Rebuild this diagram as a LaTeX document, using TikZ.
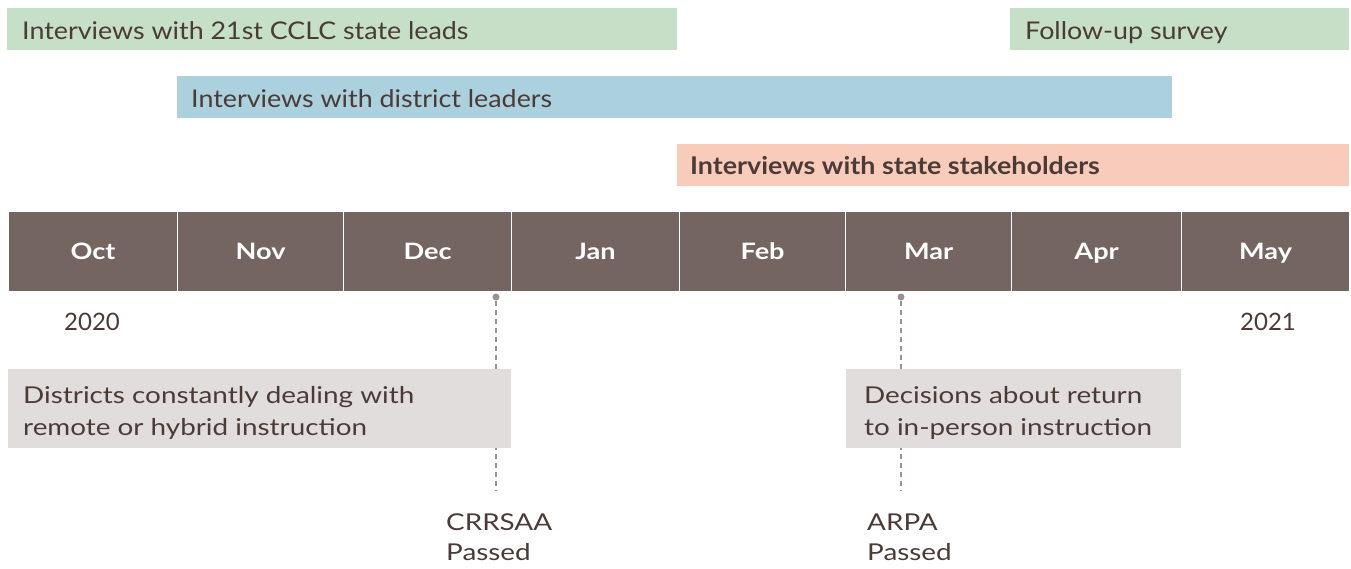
\documentclass[tikz,border=0pt]{standalone}
\usepackage{fontspec}
\setmainfont{Lato}
\newfontfamily\barfont{Lato}[FakeStretch=1.10]
\newfontfamily\notefont{Lato}[FakeStretch=1.20]
\usepackage{xcolor}
\usetikzlibrary{positioning}

\definecolor{textbrown}{HTML}{4B3B37}
\definecolor{monthbrown}{HTML}{746560}
\definecolor{leadgreen}{HTML}{C6DFC7}
\definecolor{districtblue}{HTML}{ABD0DE}
\definecolor{stakesalmon}{HTML}{F8CBBB}
\definecolor{notegray}{HTML}{E1DDDC}
\definecolor{dotgray}{HTML}{9C918E}

\tikzset{
  barbox/.style={anchor=north west, minimum height=42pt, inner sep=0pt, outer sep=0pt},
  bartext/.style={anchor=base west, text=textbrown, font=\barfont\fontsize{24.4}{28}\selectfont, inner sep=0pt},
  monthbox/.style={fill=monthbrown, draw=white, line width=1.2pt, minimum height=80pt, inner sep=0pt,
    anchor=north west},
  monthtext/.style={anchor=base, text=white, inner sep=0pt,
    font=\notefont\fontsize{22.6}{28}\selectfont\bfseries},
  yeartext/.style={anchor=base, text=textbrown, inner sep=0pt, font=\fontsize{24}{26}\selectfont},
  notebox/.style={fill=notegray, anchor=north west, minimum height=79pt, inner sep=0pt},
  notetext/.style={anchor=base west, text=textbrown, align=left, inner sep=0pt,
    font=\notefont\fontsize{23.2}{32}\selectfont},
  eventdot/.style={circle, fill=dotgray, minimum size=7pt, inner sep=0pt},
  eventline/.style={dotgray, line width=1.3pt, dash pattern=on 5pt off 4pt},
  eventtext/.style={anchor=base west, text=textbrown, align=left, inner sep=0pt,
    font=\notefont\fontsize{23.2}{30}\selectfont}
}

\begin{document}
\begin{tikzpicture}[x=1pt, y=-1pt]
    \useasboundingbox (0,0) rectangle (1351,569);

    % Interview bars
    \node[barbox, fill=leadgreen, minimum width=670pt] (leads) at (7,8) {};
    \node[bartext] (leadstext) at (22,39.3) {Interviews with 21st CCLC state leads};
    \node[barbox, fill=leadgreen, minimum width=339pt] (survey) at (1010,8) {};
    \node[bartext] (surveytext) at (1025,39.3) {Follow-up survey};
    \node[barbox, fill=districtblue, minimum width=995pt] (district) at (177,76) {};
    \node[bartext] (districttext) at (191,107.3) {Interviews with district leaders};
    \node[barbox, fill=stakesalmon, minimum width=672pt] (stake) at (677,144) {};
    \node[bartext, font=\barfont\fontsize{24.4}{28}\selectfont\bfseries] (staketext) at (690,175)
        {Interviews with state stakeholders};

    % Months
    \foreach \x/\w/\m in {8/169/Oct, 177/166/Nov, 343/168/Dec, 511/168/Jan,
                          679/166/Feb, 845/166/Mar, 1011/170/Apr, 1181/168/May}
    {
        \node[monthbox, minimum width=\w pt] (m\m) at (\x,211) {};
        \node[monthtext] at (m\m.center |- 0,259.5) {\m};
    }

    % Years
    \node[yeartext] (y2020) at (92,330) {2020};
    \node[yeartext] (y2021) at (1268,330) {2021};

    % Events
    \node[eventdot] (crrdot) at (496,297) {};
    \coordinate (crrend) at (496,491);
    \draw[eventline] (crrdot) -- (crrend);
    \node[eventdot] (arpdot) at (901,297) {};
    \coordinate (arpend) at (901,491);
    \draw[eventline] (arpdot) -- (arpend);

    % Notes (base anchor sits on the last line)
    \node[notebox, minimum width=503pt] (remote) at (8,369) {};
    \node[notetext] (remotetext) at (23,435.3) {Districts constantly dealing with\\remote or hybrid instruction};
    \node[notebox, minimum width=335pt] (return) at (846,369) {};
    \node[notetext] (returntext) at (864,435.3) {Decisions about return\\to in-person instruction};

    \node[eventtext] (crrsaa) at (446,560.5) {CRRSAA\\Passed};
    \node[eventtext] (arpa) at (867,560.5) {ARPA\\Passed};
\end{tikzpicture}
\end{document}
